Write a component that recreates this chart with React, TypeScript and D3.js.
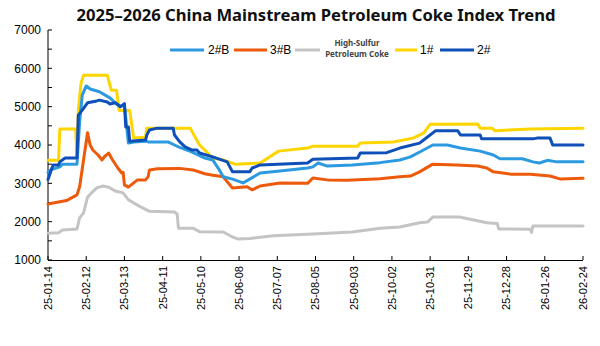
import React from "react";
import * as d3 from "d3";

const tickDates = ["2025-01-14","2025-02-12","2025-03-13","2025-04-11","2025-05-10","2025-06-08","2025-07-07","2025-08-05","2025-09-03","2025-10-02","2025-10-31","2025-11-29","2025-12-28","2026-01-26","2026-02-24"];
const yTicks = [1000,1500,2000,2500,3000,3500,4000,4500,5000,5500,6000,6500,7000];

const s1Dates = ["2025-01-14","2025-01-22","2025-01-23","2025-02-04","2025-02-05","2025-02-06","2025-02-08","2025-02-10","2025-02-28","2025-03-03","2025-03-07","2025-03-09","2025-03-17","2025-03-20","2025-03-29","2025-03-30","2025-05-02","2025-05-04","2025-05-09","2025-05-13","2025-05-19","2025-05-27","2025-06-05","2025-06-24","2025-07-08","2025-07-30","2025-08-03","2025-09-06","2025-09-08","2025-10-03","2025-10-18","2025-10-26","2025-10-31","2025-12-06","2025-12-08","2025-12-17","2025-12-19","2026-01-15","2026-02-24"];
const s1Values = [3600,3600,4420,4420,3650,4900,5600,5820,5820,5430,5430,4900,4900,4180,4200,4440,4440,4310,4000,3870,3660,3610,3500,3530,3840,3920,3970,3970,4050,4080,4180,4310,4540,4550,4440,4440,4370,4420,4440];

const s2BDates = ["2025-01-14","2025-01-16","2025-01-23","2025-01-25","2025-02-05","2025-02-07","2025-02-09","2025-02-12","2025-02-15","2025-02-22","2025-03-02","2025-03-06","2025-03-10","2025-03-13","2025-03-16","2025-03-20","2025-03-29","2025-03-31","2025-04-15","2025-04-20","2025-04-23","2025-05-03","2025-05-13","2025-05-19","2025-05-24","2025-05-27","2025-06-03","2025-06-11","2025-06-15","2025-06-24","2025-07-09","2025-07-30","2025-08-03","2025-08-07","2025-08-14","2025-09-02","2025-09-23","2025-10-08","2025-10-16","2025-10-26","2025-11-02","2025-11-13","2025-11-23","2025-12-08","2025-12-18","2025-12-23","2026-01-09","2026-01-17","2026-01-22","2026-01-28","2026-02-04","2026-02-24"];
const s2BValues = [3280,3350,3430,3500,3500,4600,5300,5540,5460,5390,5230,5100,5000,5050,4050,4080,4100,4080,4080,4000,3950,3820,3660,3610,3350,3170,3110,3010,3090,3270,3320,3400,3430,3530,3450,3480,3540,3610,3690,3870,4000,4000,3920,3840,3740,3640,3640,3560,3530,3600,3560,3560];

const s2Dates = ["2025-01-14","2025-01-17","2025-01-18","2025-01-22","2025-01-23","2025-01-27","2025-02-05","2025-02-06","2025-02-09","2025-02-13","2025-02-20","2025-02-22","2025-02-28","2025-03-02","2025-03-06","2025-03-10","2025-03-13","2025-03-14","2025-03-16","2025-03-17","2025-03-29","2025-03-30","2025-04-01","2025-04-07","2025-04-19","2025-04-20","2025-04-24","2025-04-28","2025-05-03","2025-05-07","2025-05-09","2025-05-19","2025-05-30","2025-06-03","2025-06-16","2025-06-18","2025-06-24","2025-07-30","2025-08-03","2025-09-06","2025-09-08","2025-09-28","2025-10-08","2025-10-23","2025-10-29","2025-11-04","2025-11-21","2025-11-23","2025-12-08","2025-12-09","2026-01-17","2026-01-20","2026-01-30","2026-02-01","2026-02-24"];
const s2Values = [3100,3400,3480,3480,3560,3660,3660,4780,4910,5100,5150,5170,5120,5070,5100,5000,5080,4470,4470,4100,4130,4260,4390,4440,4440,4260,4080,3950,3870,3870,3790,3690,3560,3300,3300,3400,3480,3530,3630,3660,3790,3800,3920,4050,4210,4370,4370,4260,4260,4160,4160,4180,4180,4000,4000];

const s3BDates = ["2025-01-14","2025-01-28","2025-02-05","2025-02-07","2025-02-13","2025-02-15","2025-02-17","2025-02-21","2025-02-24","2025-02-26","2025-03-01","2025-03-04","2025-03-08","2025-03-11","2025-03-12","2025-03-13","2025-03-16","2025-03-20","2025-03-23","2025-03-29","2025-03-31","2025-04-01","2025-04-07","2025-04-24","2025-05-04","2025-05-13","2025-05-18","2025-05-27","2025-05-30","2025-06-03","2025-06-14","2025-06-18","2025-06-24","2025-07-09","2025-07-30","2025-08-03","2025-08-14","2025-08-29","2025-09-23","2025-10-08","2025-10-16","2025-10-23","2025-11-02","2025-11-20","2025-12-06","2025-12-13","2025-12-18","2025-12-31","2026-01-15","2026-01-30","2026-02-07","2026-02-24"];
const s3BValues = [2460,2550,2700,2910,4320,4000,3870,3740,3610,3700,3790,3610,3400,3270,3290,2960,2900,3010,3090,3090,3170,3350,3380,3390,3350,3250,3220,3170,3040,2880,2910,2830,2930,3010,3000,3140,3090,3080,3120,3170,3190,3300,3500,3480,3450,3400,3300,3240,3240,3190,3110,3130];

const sHSDates = ["2025-01-14","2025-01-22","2025-01-25","2025-02-05","2025-02-07","2025-02-10","2025-02-13","2025-02-16","2025-02-20","2025-02-25","2025-03-01","2025-03-06","2025-03-12","2025-03-16","2025-03-20","2025-03-25","2025-04-01","2025-04-20","2025-04-22","2025-04-23","2025-05-04","2025-05-09","2025-05-27","2025-06-03","2025-06-07","2025-06-16","2025-07-04","2025-08-03","2025-09-02","2025-09-23","2025-10-08","2025-10-23","2025-10-29","2025-11-02","2025-11-23","2025-11-25","2025-12-13","2025-12-21","2025-12-22","2026-01-15","2026-01-16","2026-01-17","2026-02-24"];
const sHSValues = [1700,1710,1780,1810,2100,2230,2640,2750,2880,2930,2900,2800,2750,2570,2490,2390,2270,2250,2200,1830,1830,1740,1730,1600,1550,1560,1630,1680,1730,1830,1860,1970,1990,2120,2120,2100,1970,1950,1810,1800,1720,1890,1890];

const seriesNames = ["2#B", "3#B", "High-Sulfur Petroleum Coke", "1#", "2#"];
const seriesColors = ["#2C9AE0", "#EE5A0B", "#C4C4C4", "#FFD500", "#0F4FB8"];

const parse = d3.timeParse("%Y-%m-%d");
const fmt = d3.timeFormat("%y-%m-%d");

const seriesData = [
  { name: seriesNames[0], color: seriesColors[0], dates: s2BDates, values: s2BValues },
  { name: seriesNames[1], color: seriesColors[1], dates: s3BDates, values: s3BValues },
  { name: seriesNames[2], color: seriesColors[2], dates: sHSDates, values: sHSValues },
  { name: seriesNames[3], color: seriesColors[3], dates: s1Dates, values: s1Values },
  { name: seriesNames[4], color: seriesColors[4], dates: s2Dates, values: s2Values },
];
const drawOrder = [2, 1, 3, 0, 4];

export default function App() {
  const W = 600, H = 346;
  const x = d3.scaleTime()
    .domain([parse(tickDates[0])!, parse(tickDates[tickDates.length - 1])!])
    .range([48, 583]);
  const y = d3.scaleLinear().domain([1000, 7000]).range([260, 30]);
  const line = d3.line<[Date, number]>()
    .x((d) => x(d[0]))
    .y((d) => y(d[1]));

  const axisFont = "'Liberation Sans', Arial, sans-serif";

  return (
    <svg width={W} height={H} style={{ position: "absolute", left: 0, top: 0, background: "#fff" }}>
      <rect width={W} height={H} fill="#fff" />
      <text x={316} y={21} textAnchor="middle" fontFamily="'Noto Sans', sans-serif" fontWeight={700} fontSize={16.6} fill="#111">
        2025–2026 China Mainstream Petroleum Coke Index Trend
      </text>
      {/* y axis */}
      <line x1={48} x2={48} y1={y(7000)} y2={y(1000)} stroke="#000" strokeWidth={1} />
      {yTicks.map((t) => (
        <g key={t}>
          <line x1={48} x2={52} y1={y(t)} y2={y(t)} stroke="#000" />
          {t % 1000 === 0 && (
            <text x={41} y={y(t)} dy="0.35em" textAnchor="end" fontFamily={axisFont} fontSize={12} fill="#000">
              {t}
            </text>
          )}
        </g>
      ))}
      {/* x axis */}
      <line x1={48} x2={583} y1={260.5} y2={260.5} stroke="#000" strokeWidth={1} />
      {tickDates.map((t) => {
        const xx = x(parse(t)!);
        return (
          <g key={t}>
            <line x1={xx} x2={xx} y1={260} y2={256} stroke="#000" />
            <text transform={`translate(${xx},${266}) rotate(-90)`} dy="0.35em" textAnchor="end" fontFamily={axisFont} fontSize={11} fill="#000">
              {fmt(parse(t)!)}
            </text>
          </g>
        );
      })}
      {/* series */}
      {drawOrder.map((i) => {
        const s = seriesData[i];
        const pts: [Date, number][] = s.dates.map((d, j) => [parse(d)!, s.values[j]]);
        return (
          <path key={s.name} d={line(pts) || ""} fill="none" stroke={s.color} strokeWidth={3} strokeLinejoin="round" strokeLinecap="round" />
        );
      })}
      {/* legend */}
      <g fontFamily={axisFont} fontSize={12} fill="#000">
        <line x1={170} x2={204} y1={50} y2={50} stroke={seriesColors[0]} strokeWidth={3} />
        <text x={208} y={50} dy="0.35em">2#B</text>
        <line x1={234} x2={267} y1={50} y2={50} stroke={seriesColors[1]} strokeWidth={3} />
        <text x={270} y={50} dy="0.35em">3#B</text>
        <line x1={295} x2={320} y1={50} y2={50} stroke={seriesColors[2]} strokeWidth={3} />
        <text x={357} y={46} textAnchor="middle" fontSize={8} fontWeight={700} fill="#444" fontFamily="'Noto Sans', sans-serif">High-Sulfur</text>
        <text x={357} y={57} textAnchor="middle" fontSize={8} fontWeight={700} fill="#444" fontFamily="'Noto Sans', sans-serif">Petroleum Coke</text>
        <line x1={395} x2={417} y1={50} y2={50} stroke={seriesColors[3]} strokeWidth={3} />
        <text x={420} y={50} dy="0.35em">1#</text>
        <line x1={440} x2={474} y1={50} y2={50} stroke={seriesColors[4]} strokeWidth={3} />
        <text x={477} y={50} dy="0.35em">2#</text>
      </g>
    </svg>
  );
}
